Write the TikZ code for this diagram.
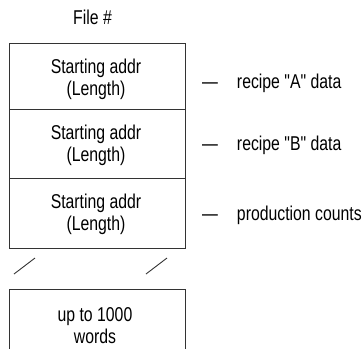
\documentclass[tikz,border=0pt]{standalone}
\usepackage{fontspec}
\setmainfont{Liberation Sans}[FakeStretch=0.79, Ligatures=TeXOff]
\begin{document}
\begin{tikzpicture}[x=1pt,y=-1pt,
  cell/.style={draw=black!80, line width=0.9pt, minimum width=176pt, inner sep=0pt},
  txt/.style={inner sep=0pt, align=center, font=\fontsize{20}{22}\selectfont},
  lbl/.style={inner sep=0pt, anchor=base west, font=\fontsize{20}{22}\selectfont},
  brk/.style={draw=black!80, line width=0.9pt}]
\useasboundingbox (0,0) rectangle (363,348);
% title
\node[lbl, anchor=base] (title) at (92.5,24) {File \#};
% boxes
\node[cell, minimum height=66pt] (b1) at (97,76) {};
\node[cell, minimum height=69pt] (b2) at (97,143.5) {};
\node[cell, minimum height=70pt] (b3) at (97,213) {};
\node[txt] (t1) at (96,79.5) {Starting addr\\(Length)};
\node[txt] (t2) at (96,145.5) {Starting addr\\(Length)};
\node[txt] (t3) at (96,214.5) {Starting addr\\(Length)};
% labels
\node[lbl] (l1) at (202,88.5) {—\hspace{19pt}recipe "A" data};
\node[lbl] (l2) at (202,150.7) {—\hspace{19pt}recipe "B" data};
\node[lbl] (l3) at (202,220.7) {—\hspace{19pt}production counts};
% break marks
\coordinate (s1a) at (14,274); \coordinate (s1b) at (35,258);
\coordinate (s2a) at (146,274); \coordinate (s2b) at (167,258);
\draw[brk] (s1a) -- (s1b);
\draw[brk] (s2a) -- (s2b);
% bottom open box
\coordinate (bl) at (9,350); \coordinate (br) at (185,350);
\coordinate (tl) at (9,289); \coordinate (tr) at (185,289);
\draw[brk] (bl) -- (tl) -- (tr) -- (br);
\node[txt] (t4) at (95,325.5) {up to 1000\\words};
\end{tikzpicture}
\end{document}
